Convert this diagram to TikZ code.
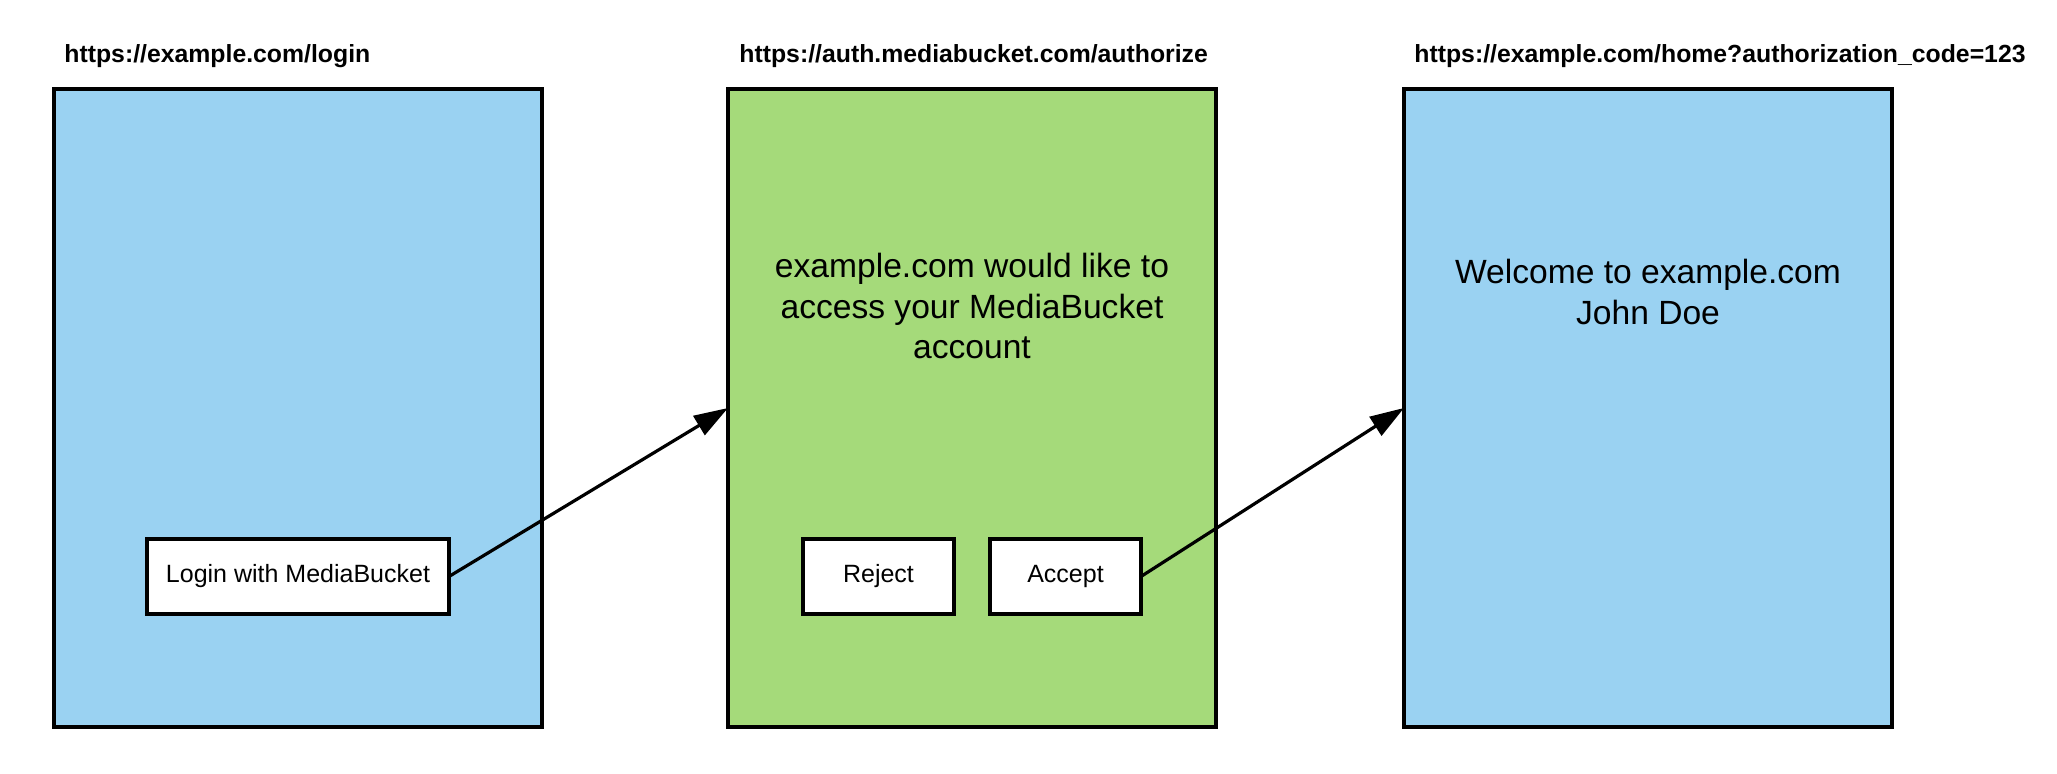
\documentclass[tikz,border=0pt]{standalone}
\usepackage{fontspec}
\setmainfont{Liberation Sans}
\usetikzlibrary{arrows.meta}
\definecolor{pageblue}{RGB}{154,210,242}
\definecolor{pagegreen}{RGB}{165,218,122}
\tikzset{
    page/.style={draw, line width=1.8pt, minimum width=244pt, minimum height=319pt, inner sep=0pt, outer sep=0pt},
    url/.style={anchor=base west, inner sep=0pt, font=\fontsize{12.4}{15}\selectfont\bfseries},
    button/.style={draw, fill=white, line width=1.8pt, minimum height=37.5pt, inner sep=0pt, outer sep=0pt, font=\fontsize{12.5}{15}\selectfont},
    message/.style={align=center, inner sep=0pt, font=\fontsize{16.8}{20.4}\selectfont},
    redirect/.style={line width=1.6pt, -{Triangle[length=17pt,width=11pt]}}
}
\begin{document}
\begin{tikzpicture}[x=0.5pt, y=-0.5pt]
    \useasboundingbox (0,0) rectangle (2057,774);

    % Pages
    \node[page, fill=pageblue] (login) at (298,408) {};
    \node[page, fill=pagegreen] (auth) at (972,408) {};
    \node[page, fill=pageblue] (home) at (1648,408) {};

    % Addresses
    \node[url] (loginurl) at (64,63) {https://example.com/login};
    \node[url] (authurl) at (739,63) {https://auth.mediabucket.com/authorize};
    \node[url] (homeurl) at (1414,63) {https://example.com/home?authorization\_code=123};

    % Page contents
    \node[button, minimum width=151pt] (loginbtn) at (298,576.5) {Login with MediaBucket};
    \node[message] (request) at (972,306) {example.com would like to\\access your MediaBucket\\account};
    \node[button, minimum width=75.5pt] (reject) at (878.5,576.5) {Reject};
    \node[button, minimum width=75.5pt] (accept) at (1065.5,576.5) {Accept};
    \node[message] (welcome) at (1648,292) {Welcome to example.com\\John Doe};

    % Redirects
    \draw[redirect] (loginbtn.east) -- (auth.west);
    \draw[redirect] (accept.east) -- (home.west);
\end{tikzpicture}
\end{document}
